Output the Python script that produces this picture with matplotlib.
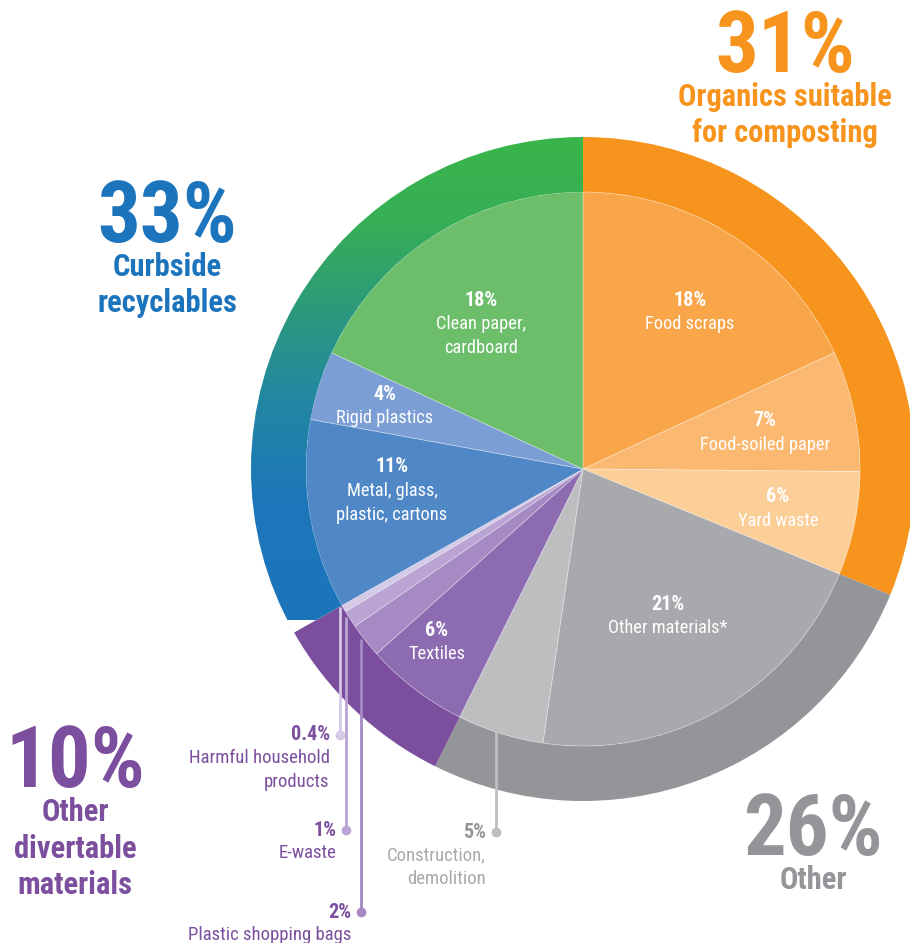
import matplotlib
matplotlib.use("Agg")
import matplotlib.pyplot as plt
from matplotlib.colors import LinearSegmentedColormap
import numpy as np

plt.rcParams['font.family'] = ['Roboto Condensed', 'DejaVu Sans']

# ---------------- data ----------------
groups = ["Organics suitable\nfor composting", "Other", "Other\ndivertable\nmaterials", "Curbside\nrecyclables"]
group_pct = ["31%", "26%", "10%", "33%"]
group_colors = ["#F7941D", "#939598", "#7B4F9E", None]

sub_labels = ["Food scraps", "Food-soiled paper", "Yard waste",
              "Other materials*", "Construction,\ndemolition",
              "Textiles", "Plastic shopping bags", "E-waste", "Harmful household\nproducts",
              "Metal, glass,\nplastic, cartons", "Rigid plastics", "Clean paper,\ncardboard"]
sub_values = [18, 7, 6, 21, 5, 6, 2, 1, 0.4, 11, 4, 18]
sub_pct = ["18%", "7%", "6%", "21%", "5%", "6%", "2%", "1%", "0.4%", "11%", "4%", "18%"]
sub_group = [0, 0, 0, 1, 1, 2, 2, 2, 2, 3, 3, 3]
sub_colors = ["#F9A64A", "#FBB871", "#FDCF98", "#A7A9AC", "#BCBEC0",
              "#8C6BB1", "#A58AC3", "#B9A4D3", "#D4C9E6",
              "#5087C7", "#7B9ED5", "#6CBE6A"]
group_values = [sum(v for v, g in zip(sub_values, sub_group) if g == k) for k in range(4)]

# ---------------- layout (pixels) ----------------
W, H = 910, 943
CX, CY = 583, H - 469
R_OUT, R_IN = 332, 277

fig = plt.figure(figsize=(W / 100, H / 100), dpi=100)
ax = fig.add_axes([0, 0, 1, 1])

outer, _ = ax.pie(group_values, radius=R_OUT, center=(CX, CY), startangle=90,
                  counterclock=False, colors=[c or "#1C75BC" for c in group_colors],
                  wedgeprops=dict(width=R_OUT - R_IN, linewidth=0))
inner, _ = ax.pie(sub_values, radius=R_IN, center=(CX, CY), startangle=90,
                  counterclock=False, colors=sub_colors,
                  wedgeprops=dict(linewidth=0.6, edgecolor=(1, 1, 1, 0.35)))

# gradient for curbside ring (vertical: blue at bottom, green at top)
y_bot, y_top = 620, 137
stops = [(620, "#1C75BC"), (500, "#1C77B9"), (400, "#2387A2"), (300, "#2C9C78"),
         (220, "#37AF56"), (137, "#39B54A")]
cmap = LinearSegmentedColormap.from_list(
    "curb", [((y_bot - yp) / (y_bot - y_top), c) for yp, c in stops])
grad = np.linspace(0, 1, 256).reshape(-1, 1)
im = ax.imshow(grad, cmap=cmap, origin='lower', extent=(CX - R_OUT - 2, CX + 1, H - y_bot, H - y_top),
               aspect='auto', zorder=outer[3].get_zorder() + 0.1, interpolation='bilinear')
im.set_clip_path(outer[3])
outer[3].set_facecolor("none")

ax.set_xlim(0, W)
ax.set_ylim(0, H)
ax.set_aspect('equal')
ax.axis('off')

# ---------------- inner labels ----------------
inner_pos = {0: (690, 300), 1: (765, 421), 2: (778, 497), 3: (668, 604), 5: (437, 630),
             9: (392, 467), 10: (385, 394), 11: (481, 300)}
for i, (x, y) in inner_pos.items():
    ax.text(x, H - y, sub_pct[i], color="white", fontsize=14.5, fontweight='bold',
            ha='center', va='center')
    ax.text(x, H - y - 15, sub_labels[i], color="white", fontsize=13.2,
            ha='center', va='top', linespacing=1.45)

# ---------------- leader labels ----------------
total = sum(sub_values)
cum = np.cumsum([0] + sub_values)
leaders = {8: (735, "#D4C9E6", "#7B4F9E"), 7: (830, "#B9A4D3", "#7B4F9E"),
           6: (912, "#A58AC3", "#7B4F9E"), 4: (832, "#BCBEC0", "#939598")}
for i, (ydot, lc, tc) in leaders.items():
    mid = (cum[i] + cum[i + 1]) / 2 / total
    ang = np.deg2rad(90 - 360 * mid)
    x = CX + R_IN * np.cos(ang) - 4
    ytop = CY + R_IN * np.sin(ang) * 0.99
    ax.plot([x, x], [ytop, H - ydot], color=lc, lw=2, solid_capstyle='butt', zorder=5)
    ax.plot([x], [H - ydot], 'o', color=lc, ms=6, zorder=5)
    ax.text(x - 10, H - ydot, sub_pct[i], color=tc, fontsize=14.5, fontweight='bold',
            ha='right', va='center')
    ax.text(x - 10, H - ydot - 14, sub_labels[i], color=tc if tc != "#939598" else "#A7A9AC",
            fontsize=13.5, ha='right', va='top', linespacing=1.45)

# ---------------- group headers ----------------
# (x centre, baseline of big number)
group_text_pos = [(785, 72), (813, 855), (75, 787), (167, 242)]
group_text_colors = ["#F7941D", "#939598", "#7B4F9E", "#1C75BC"]
for k, (x, base) in enumerate(group_text_pos):
    ax.text(x, H - base, group_pct[k], color=group_text_colors[k], fontsize=61,
            fontweight='bold', ha='center', va='baseline')
    for j, line in enumerate(groups[k].split("\n")):
        ax.text(x, H - (base + 25 + 36.5 * j), line, color=group_text_colors[k], fontsize=22,
                fontweight='bold', ha='center', va='center')

fig.savefig("out.png", dpi=100)
